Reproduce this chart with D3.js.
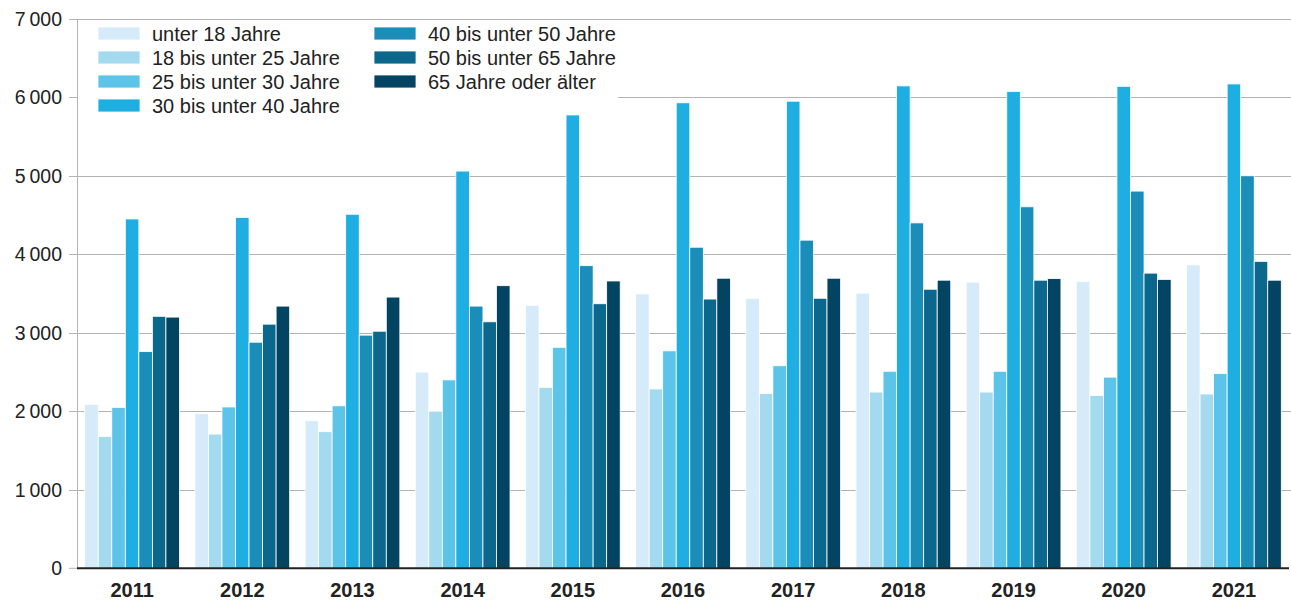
<!DOCTYPE html>
<html>
<head>
<meta charset="utf-8">
<script src="https://cdn.jsdelivr.net/npm/d3@7"></script>
<style>
  body { margin: 0; background: #fff; }
  svg { display: block; font-family: "Liberation Sans", Arial, sans-serif; }
  .grid line { stroke: #b3b3b3; stroke-width: 1; }
  .y-label { font-size: 19.5px; fill: #222; }
  .x-label { font-size: 20px; font-weight: bold; fill: #222; }
  .legend-label { font-size: 20px; fill: #222; }
</style>
</head>
<body>
<div id="chart"></div>
<script>
const years = ['2011', '2012', '2013', '2014', '2015', '2016', '2017', '2018', '2019', '2020', '2021'];
const groups = [
  'unter 18 Jahre',
  '18 bis unter 25 Jahre',
  '25 bis unter 30 Jahre',
  '30 bis unter 40 Jahre',
  '40 bis unter 50 Jahre',
  '50 bis unter 65 Jahre',
  '65 Jahre oder älter'
];
const colors = ['#d5ebf9', '#a3daef', '#5bc4e8', '#1eaee1', '#1a8db8', '#0b678c', '#034462'];

// one array per age group, in the order of years
const under18    = [2090, 1970, 1880, 2500, 3350, 3495, 3440, 3505, 3645, 3655, 3865];
const from18to25 = [1680, 1710, 1740, 2000, 2305, 2285, 2225, 2245, 2245, 2200, 2220];
const from25to30 = [2050, 2055, 2070, 2400, 2815, 2770, 2580, 2510, 2510, 2435, 2480];
const from30to40 = [4450, 4470, 4510, 5060, 5775, 5930, 5950, 6145, 6075, 6140, 6170];
const from40to50 = [2760, 2880, 2970, 3340, 3855, 4090, 4180, 4400, 4605, 4805, 5000];
const from50to65 = [3210, 3110, 3020, 3140, 3370, 3430, 3440, 3555, 3670, 3760, 3910];
const over65     = [3200, 3340, 3455, 3600, 3660, 3695, 3695, 3670, 3690, 3680, 3670];
const series = [under18, from18to25, from25to30, from30to40, from40to50, from50to65, over65];

const yTicks = [0, 1000, 2000, 3000, 4000, 5000, 6000, 7000];

const width = 1291, height = 602;
const marginLeft = 77, plotRight = 1289, plotTop = 18.8, baseY = 568.3;

const svg = d3.select('#chart').append('svg')
  .attr('width', width)
  .attr('height', height);

const x0 = d3.scaleBand()
  .domain(years)
  .range([marginLeft, plotRight])
  .paddingInner(0.14)
  .paddingOuter(0.07);

const x1 = d3.scaleBand()
  .domain(d3.range(groups.length))
  .range([0, x0.bandwidth()]);

const y = d3.scaleLinear()
  .domain([0, 7000])
  .range([baseY, plotTop]);

const fmt = d => d3.format(',')(d).replace(/,/g, '\u2009');

// gridlines plus the small ticks left of the axis
const grid = svg.append('g').attr('class', 'grid');
grid.selectAll('line')
  .data(yTicks.filter(d => d > 0))
  .enter().append('line')
  .attr('x1', marginLeft - 8)
  .attr('x2', width)
  .attr('y1', d => Math.round(y(d)) + 0.5)
  .attr('y2', d => Math.round(y(d)) + 0.5);

svg.append('line')
  .attr('x1', marginLeft + 0.5)
  .attr('x2', marginLeft + 0.5)
  .attr('y1', Math.round(y(7000)))
  .attr('y2', baseY)
  .attr('stroke', '#b3b3b3');

svg.append('line')
  .attr('x1', marginLeft - 8)
  .attr('x2', marginLeft)
  .attr('y1', baseY)
  .attr('y2', baseY)
  .attr('stroke', '#b3b3b3');

svg.selectAll('.y-label')
  .data(yTicks)
  .enter().append('text')
  .attr('class', 'y-label')
  .attr('x', 62)
  .attr('y', d => y(d))
  .attr('dy', '0.36em')
  .attr('text-anchor', 'end')
  .text(fmt);

// legend sits on a white box that hides the grid behind it
const legend = svg.append('g');
legend.append('rect')
  .attr('x', marginLeft + 1)
  .attr('y', 22)
  .attr('width', 540)
  .attr('height', 96)
  .attr('fill', '#fff');

const legendItems = legend.selectAll('g.item')
  .data(groups)
  .enter().append('g')
  .attr('class', 'item')
  .attr('transform', (d, i) => {
    const col = i < 4 ? 0 : 1;
    const row = i < 4 ? i : i - 4;
    return `translate(${98 + col * 276}, ${33.5 + row * 24})`;
  });

legendItems.append('rect')
  .attr('x', 0)
  .attr('y', -6.5)
  .attr('width', 42)
  .attr('height', 13)
  .attr('fill', (d, i) => colors[i])
  .attr('stroke', '#fff')
  .attr('stroke-width', 0.8);

legendItems.append('text')
  .attr('class', 'legend-label')
  .attr('x', 54)
  .attr('dy', '0.36em')
  .text(d => d);

// bars
const yearGroups = svg.selectAll('g.year')
  .data(years)
  .enter().append('g')
  .attr('class', 'year')
  .attr('transform', d => `translate(${x0(d)}, 0)`);

yearGroups.selectAll('rect')
  .data((d, yi) => series.map((s, si) => ({ si: si, value: s[yi] })))
  .enter().append('rect')
  .attr('x', d => x1(d.si))
  .attr('y', d => y(d.value))
  .attr('width', x1.bandwidth())
  .attr('height', d => baseY - y(d.value))
  .attr('fill', d => colors[d.si])
  .attr('stroke', '#fff')
  .attr('stroke-width', 0.8);

// baseline
svg.append('line')
  .attr('x1', marginLeft)
  .attr('x2', plotRight)
  .attr('y1', baseY)
  .attr('y2', baseY)
  .attr('stroke', '#222')
  .attr('stroke-width', 2);

svg.selectAll('.x-label')
  .data(years)
  .enter().append('text')
  .attr('class', 'x-label')
  .attr('x', d => x0(d) + x0.bandwidth() / 2)
  .attr('y', 597)
  .attr('text-anchor', 'middle')
  .text(d => d);
</script>
</body>
</html>
